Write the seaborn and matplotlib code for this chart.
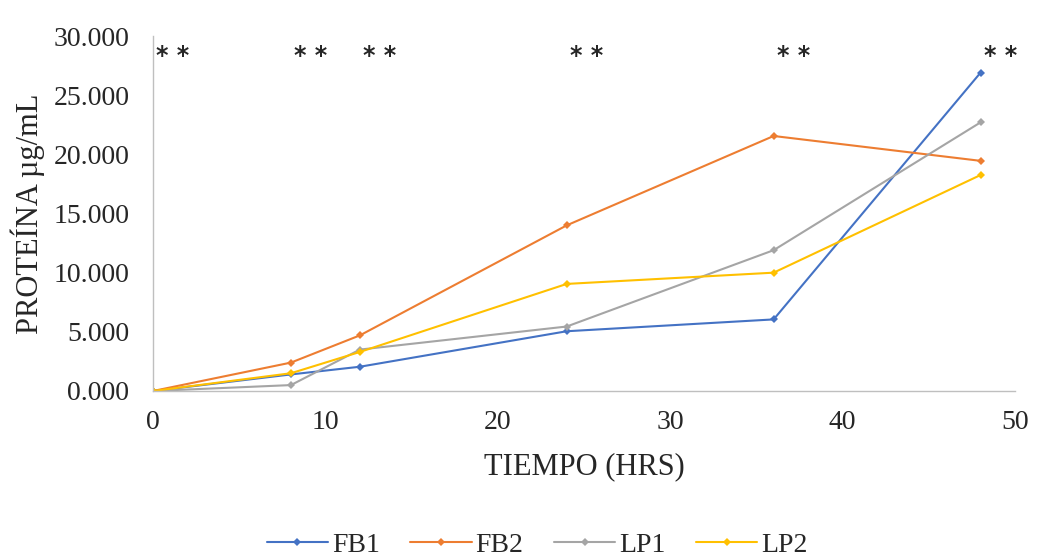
import seaborn as sns
import pandas as pd
import matplotlib.pyplot as plt

# tiempo en horas
tiempo = [0, 8, 12, 24, 36, 48]

fb1 = [0, 1400, 2050, 5050, 6050, 26900]
fb2 = [0, 2400, 4700, 14000, 21550, 19450]
lp1 = [0, 500, 3500, 5450, 11900, 22700]
lp2 = [0, 1500, 3300, 9050, 10000, 18250]

series = ['FB1', 'FB2', 'LP1', 'LP2']
colores = ['#4472C4', '#ED7D31', '#A5A5A5', '#FFC000']

y_ticks = [0, 5000, 10000, 15000, 20000, 25000, 30000]
y_labels = ['0.000', '5.000', '10.000', '15.000', '20.000', '25.000', '30.000']
x_ticks = [0, 10, 20, 30, 40, 50]


def build_df():
    rows = []
    for name, vals in zip(series, [fb1, fb2, lp1, lp2]):
        for t, v in zip(tiempo, vals):
            rows.append({'Tiempo': t, 'Proteina': v, 'Serie': name})
    return pd.DataFrame(rows)


def main():
    sns.set_style('white')
    plt.rcParams['font.family'] = ['Liberation Serif', 'DejaVu Serif']

    df = build_df()
    fig = plt.figure(figsize=(10.64, 5.59), dpi=100)
    ax = fig.add_axes([153 / 1064, 1 - 391 / 559, (1015 - 153) / 1064, (391 - 36) / 559])

    sns.lineplot(data=df, x='Tiempo', y='Proteina', hue='Serie',
                 palette=dict(zip(series, colores)), marker='D', markersize=4.5,
                 markeredgewidth=0, linewidth=1.5, ax=ax, legend=True)

    ax.set_xlim(0, 50)
    ax.set_ylim(0, 30000)
    ax.set_xticks(x_ticks)
    ax.set_xticklabels([str(x) for x in x_ticks], fontsize=20)
    ax.set_yticks(y_ticks)
    ax.set_yticklabels(y_labels, fontsize=20)
    ax.tick_params(axis='x', length=0, pad=14)
    ax.tick_params(axis='y', length=0, pad=17)

    for side in ['top', 'right']:
        ax.spines[side].set_visible(False)
    for side in ['left', 'bottom']:
        ax.spines[side].set_color('#BFBFBF')
        ax.spines[side].set_linewidth(1)

    ax.set_xlabel('TIEMPO (HRS)', fontsize=22, labelpad=12)
    ax.set_ylabel('PROTEÍNA µg/mL', fontsize=22, labelpad=6)

    # marcas de significancia
    for t in tiempo:
        ax.text(t + 0.2, 28300, '* *', ha='left', va='center', fontsize=17,
                fontweight='bold', family='DejaVu Sans')

    handles, labels = ax.get_legend_handles_labels()
    ax.get_legend().remove()
    fig.legend(handles, labels, loc='center', bbox_to_anchor=(0.505, 1 - 545 / 559),
               ncol=4, frameon=False, fontsize=20, handlelength=2.2,
               columnspacing=1.1, handletextpad=0.15)

    fig.savefig('out.png', dpi=100)


if __name__ == '__main__':
    main()
